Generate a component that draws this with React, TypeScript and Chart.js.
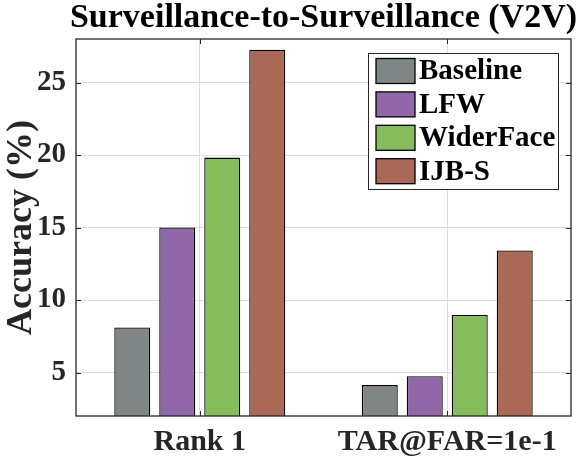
import React, { useEffect, useRef } from "react";
import { Chart, registerables } from "chart.js";

Chart.register(...registerables);

const categories = ["Rank 1", "TAR@FAR=1e-1"];
const seriesNames = ["Baseline", "LFW", "WiderFace", "IJB-S"];
const baselineValues = [8.1, 4.13];
const lfwValues = [15.0, 4.75];
const widerFaceValues = [19.82, 8.97];
const ijbsValues = [27.26, 13.42];
const seriesColors = ["#808685", "#9067a7", "#85bc5c", "#aa6957"];
const yTicks = [5, 10, 15, 20, 25];
const yMin = 2;
const yMax = 28;
const titleText = "Surveillance-to-Surveillance (V2V)";
const yLabel = "Accuracy (%)";

const FONT = "'Liberation Serif', 'Times New Roman', serif";
const INK = "#262626";

const framePlugin = {
  id: "frame",
  afterDraw(chart: any) {
    const { ctx, chartArea: a } = chart;
    const xs = chart.scales.x;
    const ys = chart.scales.y;
    ctx.save();
    ctx.strokeStyle = INK;
    ctx.lineWidth = 1.3;
    ctx.strokeRect(a.left, a.top, a.right - a.left, a.bottom - a.top);
    ctx.lineWidth = 1;
    const tl = 5;
    ys.ticks.forEach((t: any) => {
      const y = Math.round(ys.getPixelForValue(t.value)) + 0.5;
      ctx.beginPath();
      ctx.moveTo(a.left, y);
      ctx.lineTo(a.left + tl, y);
      ctx.moveTo(a.right, y);
      ctx.lineTo(a.right - tl, y);
      ctx.stroke();
    });
    xs.ticks.forEach((_t: any, i: number) => {
      const x = Math.round(xs.getPixelForValue(i)) + 0.5;
      ctx.beginPath();
      ctx.moveTo(x, a.bottom);
      ctx.lineTo(x, a.bottom - tl);
      ctx.moveTo(x, a.top);
      ctx.lineTo(x, a.top + tl);
      ctx.stroke();
    });
    ctx.fillStyle = "#000";
    ctx.font = `bold 34px ${FONT}`;
    ctx.textAlign = "center";
    ctx.textBaseline = "alphabetic";
    ctx.fillText(titleText, (a.left + a.right) / 2, 27);
    const lw = 190;
    const lh = 136;
    const lx = a.right - 13 - lw;
    const ly = a.top + 14;
    ctx.fillStyle = "#fff";
    ctx.fillRect(lx, ly, lw, lh);
    ctx.strokeStyle = INK;
    ctx.lineWidth = 1;
    ctx.strokeRect(lx + 0.5, ly + 0.5, lw, lh);
    ctx.font = `bold 29px ${FONT}`;
    ctx.textAlign = "left";
    ctx.textBaseline = "middle";
    chart.data.datasets.forEach((ds: any, i: number) => {
      const cy = ly + 18 + i * 33.4;
      ctx.fillStyle = ds.backgroundColor;
      ctx.fillRect(lx + 8, cy - 12.5, 39, 25);
      ctx.strokeStyle = "#000";
      ctx.lineWidth = 1.3;
      ctx.strokeRect(lx + 8, cy - 12.5, 39, 25);
      ctx.fillStyle = "#000";
      ctx.fillText(ds.label, lx + 51, cy + 1);
    });
    ctx.restore();
  },
};

export default function App() {
  const ref = useRef<HTMLCanvasElement>(null);
  useEffect(() => {
    document.body.style.margin = "0";
    const values = [baselineValues, lfwValues, widerFaceValues, ijbsValues];
    const chart = new Chart(ref.current as HTMLCanvasElement, {
      type: "bar",
      data: {
        labels: categories,
        datasets: seriesNames.map((name, i) => ({
          label: name,
          data: values[i],
          backgroundColor: seriesColors[i],
          borderColor: "#000",
          borderWidth: 1.3,
          borderSkipped: false,
          categoryPercentage: 0.727,
          barPercentage: 0.8,
        })),
      },
      options: {
        animation: false,
        responsive: false,
        layout: { padding: { top: 39, right: 13, left: 0, bottom: 0 } },
        plugins: { legend: { display: false }, title: { display: false }, tooltip: { enabled: false } },
        scales: {
          x: {
            grid: { offset: false, color: "#dcdcdc", drawTicks: false },
            border: { display: false },
            ticks: { color: INK, font: { family: FONT, size: 30, weight: "bold" }, padding: 8, maxRotation: 0 },
            afterFit: (s: any) => {
              s.height = 47;
            },
          },
          y: {
            min: yMin,
            max: yMax,
            grid: { color: "#dcdcdc", drawTicks: false },
            border: { display: false },
            afterBuildTicks: (s: any) => {
              s.ticks = yTicks.map((v) => ({ value: v }));
            },
            ticks: { color: INK, font: { family: FONT, size: 29, weight: "bold" }, padding: 10 },
            title: {
              display: true,
              text: yLabel,
              color: INK,
              font: { family: FONT, size: 36, weight: "bold" },
              padding: { top: 0, bottom: 0 },
            },
            afterFit: (s: any) => {
              s.width = 76;
            },
          },
        },
      },
      plugins: [framePlugin],
    } as any);
    return () => chart.destroy();
  }, []);
  return <canvas ref={ref} width={584} height={463} style={{ display: "block" }} />;
}
